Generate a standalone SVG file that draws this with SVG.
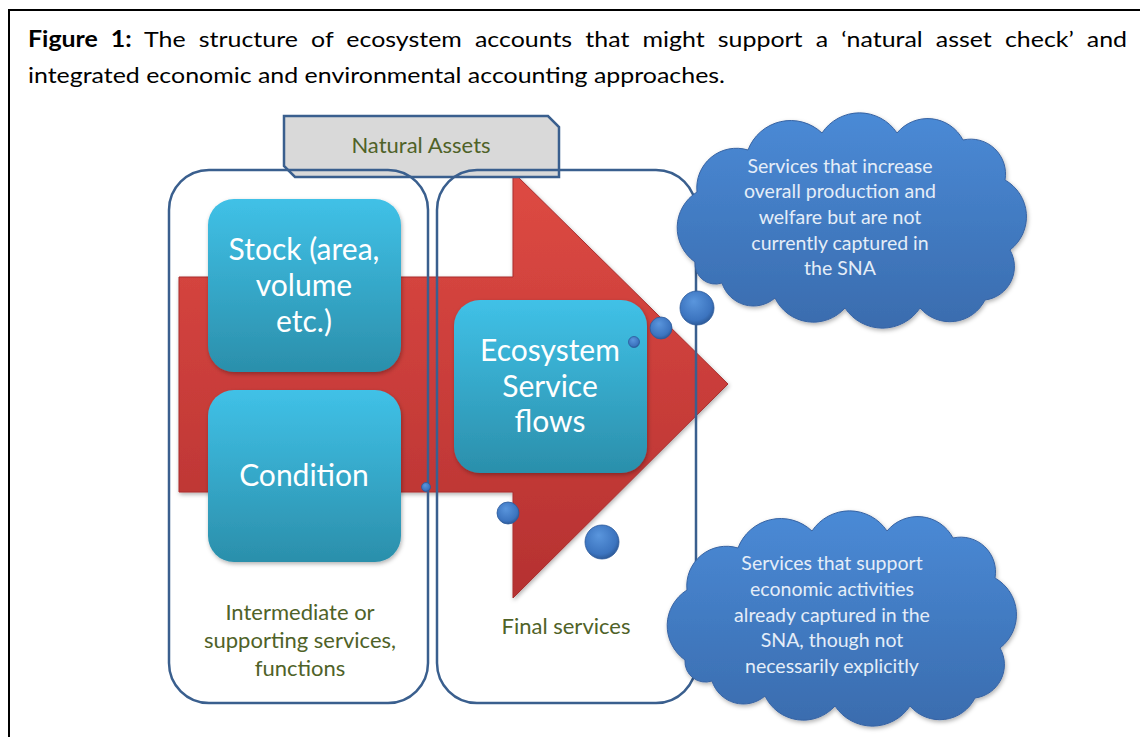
<svg xmlns="http://www.w3.org/2000/svg" width="1140" height="737" viewBox="0 0 1140 737">
<defs>
<linearGradient id="gRed" x1="0" y1="0" x2="0" y2="1">
<stop offset="0" stop-color="#de4a43"/>
<stop offset="1" stop-color="#b53131"/>
</linearGradient>
<linearGradient id="gCyan" x1="0" y1="0" x2="0" y2="1">
<stop offset="0" stop-color="#40c1e7"/>
<stop offset="1" stop-color="#2b8fab"/>
</linearGradient>
<linearGradient id="gCloud" x1="0" y1="0" x2="0" y2="1">
<stop offset="0" stop-color="#4a8ad6"/>
<stop offset="1" stop-color="#3a6cae"/>
</linearGradient>
<radialGradient id="gBall" cx="0.45" cy="0.4" r="0.6" fx="0.4" fy="0.3">
<stop offset="0" stop-color="#5a96dd"/>
<stop offset="0.8" stop-color="#3c74bf"/>
<stop offset="1" stop-color="#2d5b9a"/>
</radialGradient>
<filter id="shadow" x="-10%" y="-10%" width="130%" height="130%">
<feDropShadow dx="1" dy="2" stdDeviation="2" flood-color="#000" flood-opacity="0.3"/>
</filter>
<path id="cloudShape" d="M695,262 A42,42 0 0,1 697,192 A39.6,39.6 0 0,1 748,150 A45.6,45.6 0 0,1 822,133 A45,45 0 0,1 897,133 A39.8,39.8 0 0,1 963,140 A34.8,34.8 0 0,1 1005,180 A42,42 0 0,1 1010,250 A33.6,33.6 0 0,1 985,300 A39.3,39.3 0 0,1 920,308 A45,45 0 0,1 845,308 A42.5,42.5 0 0,1 775,298 A33,33 0 0,1 722,283 A20.5,20.5 0 0,1 695,262 Z"/>
</defs>
<style>
.t{font-family:Lato,"Open Sans","Liberation Sans",sans-serif}
.title{font-size:22px;fill:#000}
.box{fill:url(#gCyan);filter:url(#shadow)}
.boxt{font-size:30px;fill:#fff;text-anchor:middle}
.cont{fill:none;stroke:#3a5f8e;stroke-width:2.5}
.lbl{font-size:22px;fill:#4f6228;text-anchor:middle}
.cloud{fill:url(#gCloud);stroke:#3763a3;stroke-width:1;filter:url(#shadow)}
.cloudt{font-size:19.5px;fill:#e4edf8;text-anchor:middle}
.ball{fill:url(#gBall);stroke:#2d5b9a;stroke-width:0.8}
</style>
<rect width="1140" height="737" fill="#fff"/>
<rect x="9" y="10" width="1150" height="760" fill="none" stroke="#000" stroke-width="2"/>
<g id="title" class="t title">
<text x="28" y="47" word-spacing="6" textLength="1099" lengthAdjust="spacingAndGlyphs"><tspan font-weight="bold">Figure 1:</tspan> The structure of ecosystem accounts that might support a ‘natural asset check’ and</text>
<text x="28" y="83" textLength="697" lengthAdjust="spacingAndGlyphs">integrated economic and environmental accounting approaches.</text>
</g>
<g id="arrow">
<path d="M179,277 L513,277 L513,172 L728,384 L513,598 L513,492 L179,492 Z" fill="url(#gRed)" stroke="#a92e2e" stroke-width="1" filter="url(#shadow)"/>
</g>
<g id="natural-assets">
<path d="M284,116 L548,116 L559,127 L559,177 L295,177 L284,166 Z" fill="#d9d9d9" stroke="#3a5f8e" stroke-width="2.5"/>
<text class="t" x="421" y="153" font-size="22" fill="#4f6228" text-anchor="middle">Natural Assets</text>
</g>
<g id="intermediate">
<rect class="cont" x="169" y="170" width="259" height="533" rx="40"/>
<text class="t lbl" x="300" y="620">Intermediate or</text>
<text class="t lbl" x="300" y="648">supporting services,</text>
<text class="t lbl" x="300" y="676">functions</text>
</g>
<g id="final">
<rect class="cont" x="437" y="170" width="259" height="533" rx="40"/>
<text class="t lbl" x="566" y="634">Final services</text>
</g>
<g id="stock">
<rect class="box" x="208" y="199" width="193" height="173" rx="26"/>
<text class="t boxt" x="304" y="260">Stock (area,</text>
<text class="t boxt" x="304" y="296">volume</text>
<text class="t boxt" x="304" y="332">etc.)</text>
</g>
<g id="condition">
<rect class="box" x="208" y="390" width="193" height="172" rx="26"/>
<text class="t boxt" x="304" y="486">Condition</text>
</g>
<g id="ecosystem-service-flows">
<rect class="box" x="454" y="300" width="193" height="173" rx="26"/>
<text class="t boxt" x="550" y="361">Ecosystem</text>
<text class="t boxt" x="550" y="397">Service</text>
<text class="t boxt" x="550" y="432">flows</text>
</g>
<g id="cloud-top">
<use href="#cloudShape" class="cloud"/>
<text class="t cloudt" x="840" y="173">Services that increase</text>
<text class="t cloudt" x="840" y="198">overall production and</text>
<text class="t cloudt" x="840" y="224">welfare but are not</text>
<text class="t cloudt" x="840" y="250">currently captured in</text>
<text class="t cloudt" x="840" y="275">the SNA</text>
</g>
<g id="cloud-bottom">
<use href="#cloudShape" class="cloud" transform="translate(-10,398)"/>
<text class="t cloudt" x="832" y="570">Services that support</text>
<text class="t cloudt" x="832" y="596">economic activities</text>
<text class="t cloudt" x="832" y="622">already captured in the</text>
<text class="t cloudt" x="832" y="647">SNA, though not</text>
<text class="t cloudt" x="832" y="673">necessarily explicitly</text>
</g>
<g id="connectors">
<circle class="ball" cx="634" cy="342" r="5.5"/>
<circle class="ball" cx="661" cy="328" r="11"/>
<circle class="ball" cx="697" cy="308" r="17"/>
<circle class="ball" cx="426" cy="487" r="4.5"/>
<circle class="ball" cx="508" cy="513" r="11"/>
<circle class="ball" cx="602" cy="542" r="17"/>
</g>
</svg>
